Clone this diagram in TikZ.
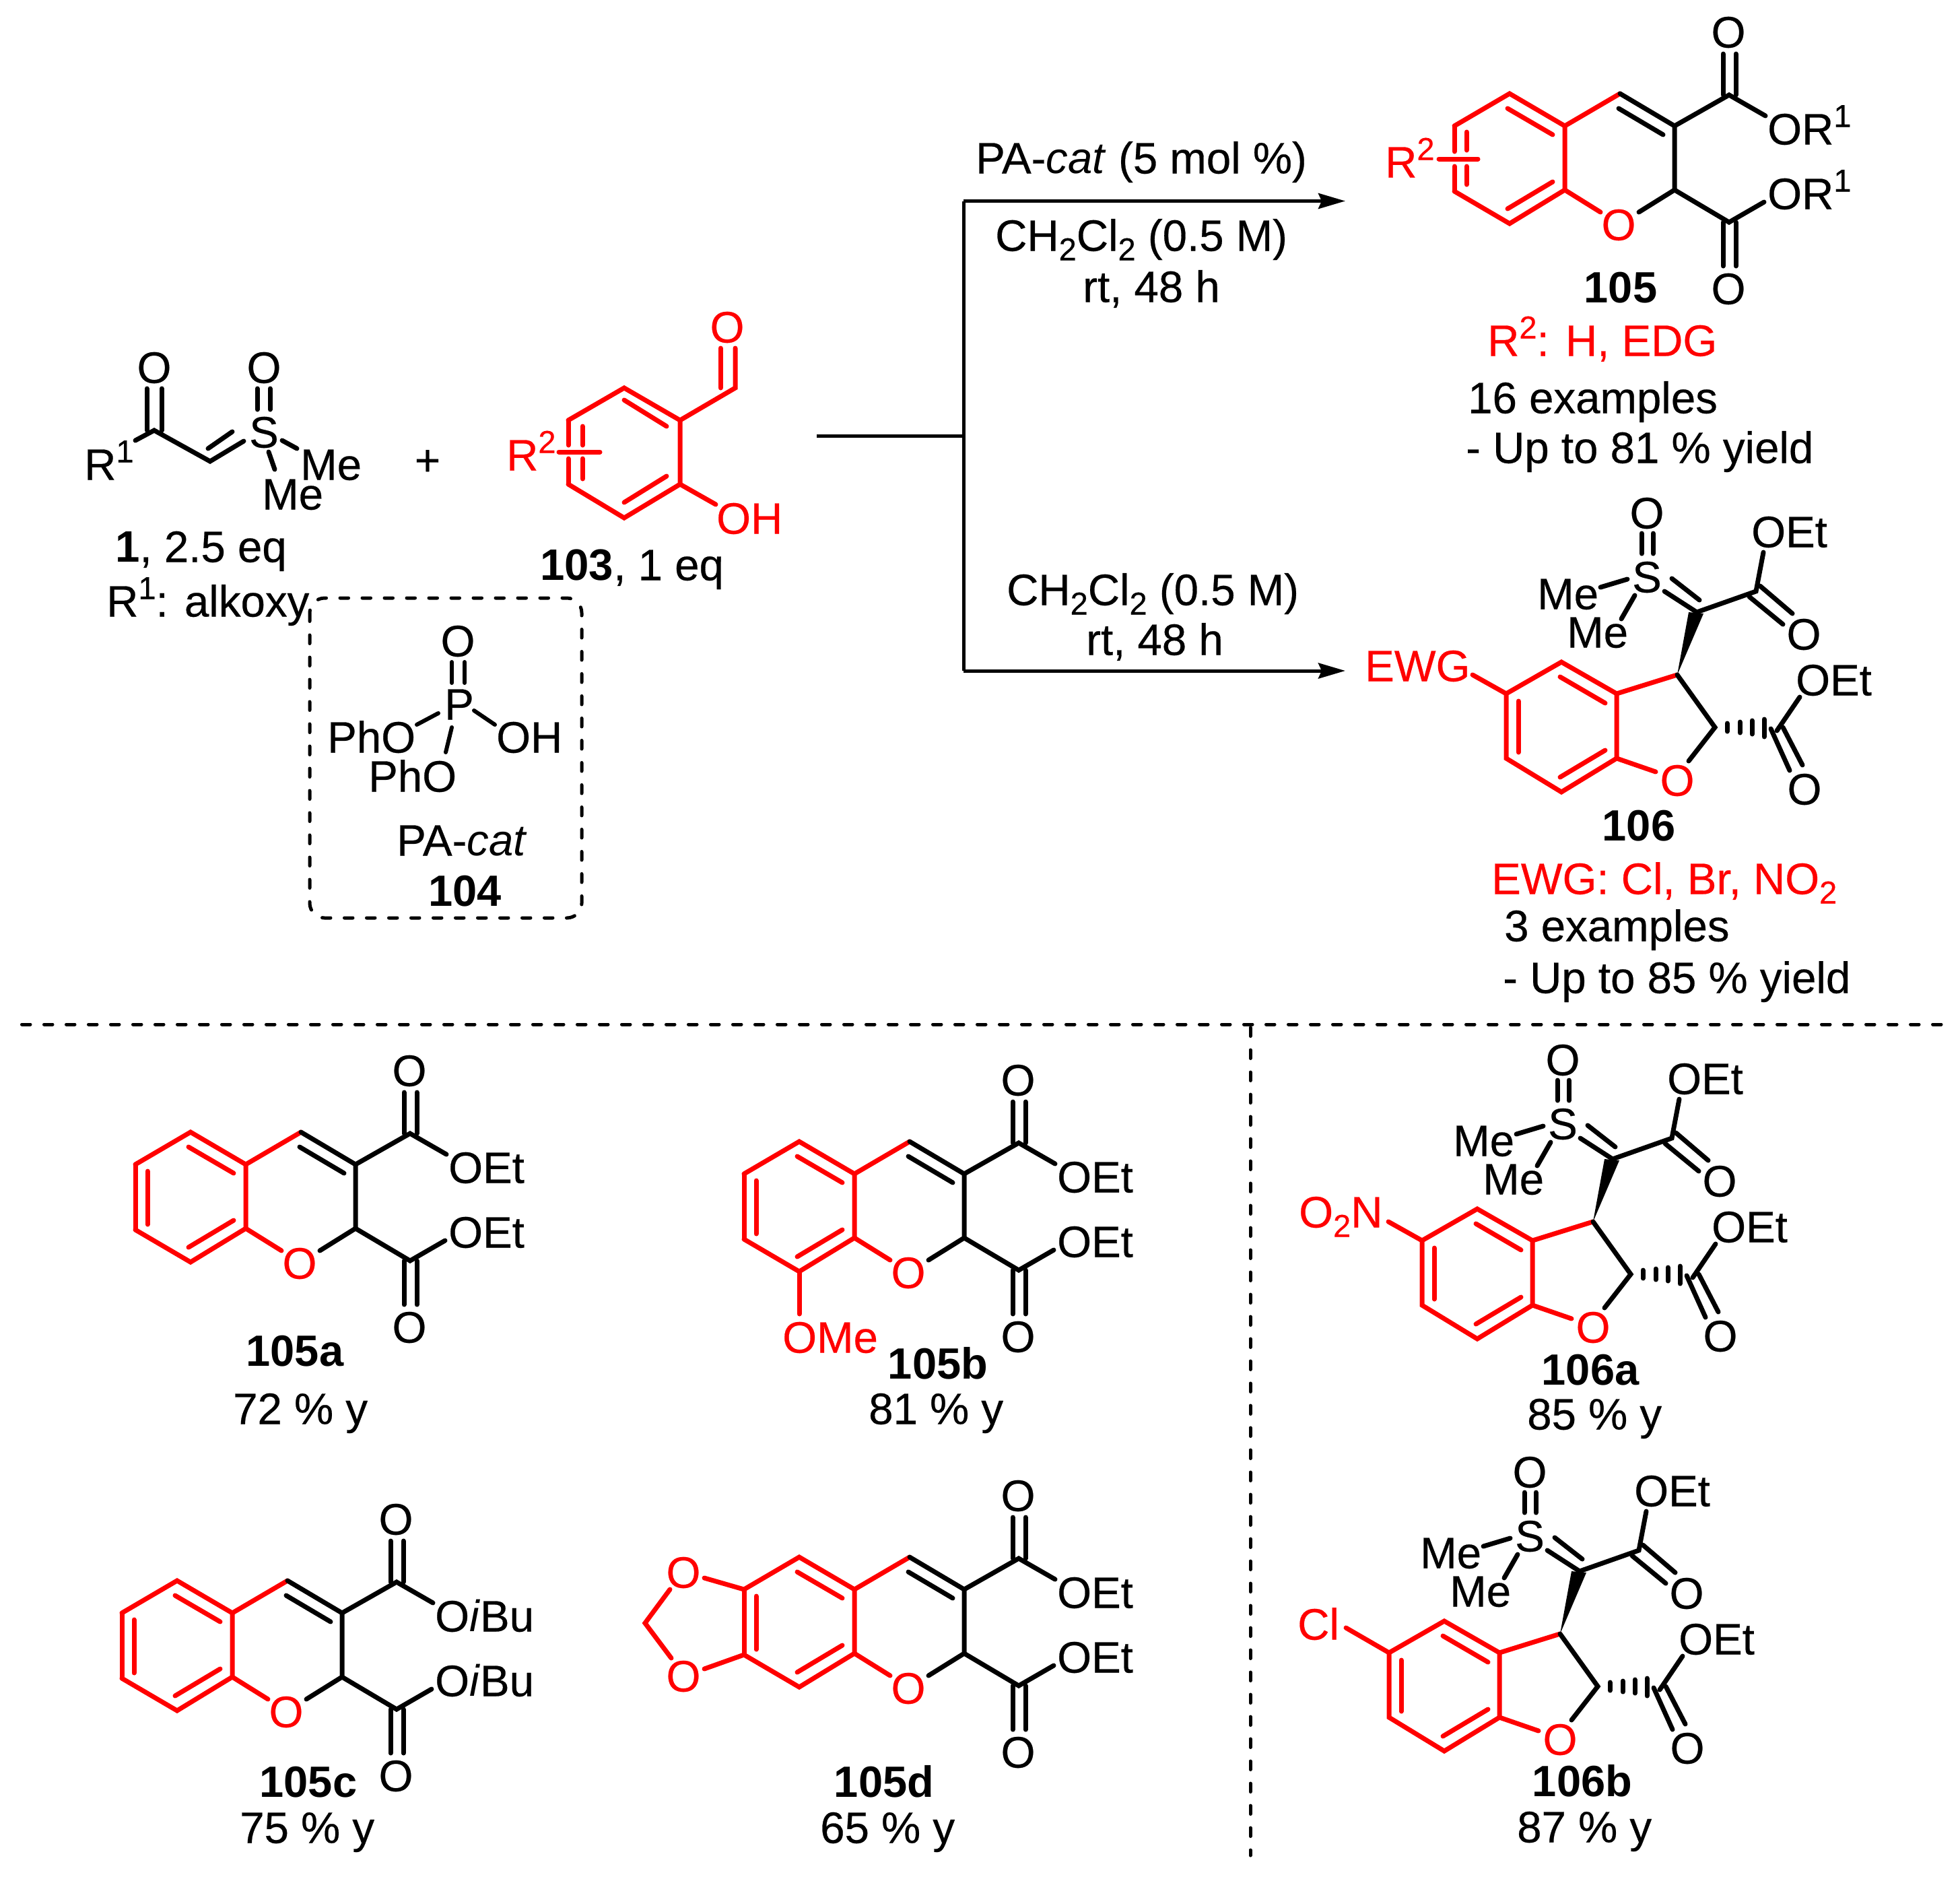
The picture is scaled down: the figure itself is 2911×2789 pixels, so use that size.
\documentclass[tikz,border=0pt]{standalone}
\usepackage{fontspec}
\setmainfont{Liberation Sans}[UprightFeatures={FakeBold=0.4}]
\usetikzlibrary{arrows.meta}
\definecolor{chemred}{RGB}{255,0,0}
\newcommand\upn[1]{\raisebox{26pt}{\fontsize{47}{50}\selectfont #1}}
\newcommand\dnn[1]{\raisebox{-14pt}{\fontsize{47}{50}\selectfont #1}}
\tikzset{
  bk/.style={line width=7pt,line cap=round,line join=miter,draw=black},
  rd/.style={line width=7pt,line cap=round,line join=miter,draw=chemred},
  txt/.style={anchor=base west,inner sep=0pt,xshift=-3pt,yshift=-1.5pt,font=\fontsize{65.4}{70}\selectfont},
  ctr/.style={anchor=center,inner sep=0pt,font=\fontsize{65.4}{70}\selectfont},
  cbase/.style={anchor=base,inner sep=0pt,yshift=-1.5pt,font=\fontsize{65.4}{70}\selectfont},
  lbl/.style={anchor=base,inner sep=0pt,yshift=-1pt,font=\fontsize{65}{70}\selectfont\bfseries},
  redtxt/.style={text=chemred},
  rxn/.style={line width=5pt,draw=black},
  sep/.style={line width=5pt,line cap=round,draw=black,dash pattern=on 12.5pt off 20.5pt},
}
% chromene diester, drawn in the coordinates of 105, without the outer left ring side
\newcommand\chromcore[4]{%
\begin{scope}[shift={(#2,#3)},name prefix=#1-]
  \coordinate (r1) at (2242,139); \coordinate (r2) at (2324,187);
  \coordinate (r3) at (2324,282); \coordinate (r4) at (2242,332);
  \coordinate (r5) at (2160,284); \coordinate (r6) at (2160,187);
  \coordinate (c4) at (2406,139); \coordinate (c3) at (2487,187);
  \coordinate (c2) at (2487,282); \coordinate (et) at (2568,141);
  \coordinate (eb) at (2568,330);
  \draw[rd] (r6) -- (r1) -- (r2) -- (c4);
  \draw[rd] (r2) -- (r3) -- (r4) -- (r5);
  \draw[rd] (r3) -- (2377,315);
  \draw[rd] (2239,161) -- (2306,200);
  \draw[rd] (2239,310) -- (2306,270);
  \draw[bk] (c4) -- (c3) -- (c2) -- (2434,315);
  \draw[bk] (2404,161) -- (2470,200);
  \draw[bk] (c3) -- (et) -- (2622,172);
  \draw[bk] (c2) -- (eb) -- (2620,300);
  \draw[bk] (2559,141) -- (2559,80);
  \draw[bk] (2578,141) -- (2578,80);
  \draw[bk] (2559,330) -- (2559,395);
  \draw[bk] (2578,330) -- (2578,395);
  \node[ctr,redtxt] (ox) at (2404,334) {O};
  \node[ctr] (ot) at (2567,48) {O};
  \node[ctr] (ob) at (2567,429) {O};
  \node[txt] (rt) at (2628,213) {#4};
  \node[txt] (rb) at (2628,309) {#4};
\end{scope}}
\newcommand\chromleft[3]{%
\begin{scope}[shift={(#2,#3)},name prefix=#1-]
  \draw[rd] (r6) -- (r5);
  \draw[rd] (2178,197) -- (2178,276);
\end{scope}}
% dihydrobenzofuran, drawn in the coordinates of 106
\newcommand\dhb[4]{%
\begin{scope}[shift={(#2,#3)},name prefix=#1-]
  \coordinate (a1) at (2319,983); \coordinate (a2) at (2401,1030);
  \coordinate (a3) at (2401,1126); \coordinate (a4) at (2319,1176);
  \coordinate (a5) at (2237,1126); \coordinate (a6) at (2237,1030);
  \coordinate (c3) at (2491,1002); \coordinate (c2) at (2547,1080);
  \coordinate (cs) at (2520,909); \coordinate (e1) at (2608,878);
  \coordinate (e2) at (2639,1085);
  \draw[rd] (a6) -- (a1) -- (a2) -- (a3) -- (a4) -- (a5) -- cycle;
  \draw[rd] (2317,1005) -- (2384,1044);
  \draw[rd] (2317,1154) -- (2384,1114);
  \draw[rd] (2255,1041) -- (2255,1117);
  \draw[rd] (a2) -- (c3);
  \draw[rd] (a3) -- (2459,1146);
  \draw[rd] (a6) -- (#4);
  \draw[bk] (c3) -- (c2) -- (2508,1130);
  \fill[black] (c3) -- (2508,909) -- (2530,911) -- cycle;
  \draw[bk] (cs) -- (2472,878);
  \draw[bk] (2524,891) -- (2483,859);
  \draw[bk] (cs) -- (e1) -- (2619,820);
  \draw[bk] (2417,860) -- (2377,872);
  \draw[bk] (2428,884) -- (2408,919);
  \draw[bk] (2438,792) -- (2438,822);
  \draw[bk] (2455,792) -- (2455,822);
  \draw[bk] (2614,870) -- (2662,911);
  \draw[bk] (2598,886) -- (2648,927);
  \draw[bk] (2565,1074) -- (2565,1086);
  \draw[bk] (2584,1072) -- (2584,1088);
  \draw[bk] (2602,1070) -- (2602,1090);
  \draw[bk] (2620,1068) -- (2620,1094);
  \draw[bk] (e2) -- (2673,1035);
  \draw[bk] (2630,1082) -- (2658,1144);
  \draw[bk] (2648,1080) -- (2677,1136);
  \node[ctr,redtxt] (ox) at (2491,1159) {O};
  \node[ctr] (sul) at (2446,857) {S};
  \node[ctr] (os) at (2446,762) {O};
  \node[txt] (me1) at (2286,903) {Me};
  \node[txt] (me2) at (2330,960) {Me};
  \node[txt] (oet1) at (2604,811) {OEt};
  \node[ctr] (oe1) at (2679,942) {O};
  \node[txt] (oet2) at (2670,1031) {OEt};
  \node[ctr] (oe2) at (2680,1172) {O};
\end{scope}}
\begin{document}
\begin{tikzpicture}[x=1pt,y=-1pt]
\useasboundingbox (0,0) rectangle (2911,2789);
\fill[white] (0,0) rectangle (2911,2789);

% ---- reagent 1
\coordinate (k1) at (229,639); \coordinate (k2) at (312,685);
\draw[bk] (201,654) -- (k1) -- (k2) -- (362,655);
\draw[bk] (309,666) -- (345,641);
\draw[bk] (218,639) -- (218,577);
\draw[bk] (240,639) -- (240,577);
\draw[bk] (382,577) -- (382,608);
\draw[bk] (401,577) -- (401,608);
\draw[bk] (419,654) -- (441,666);
\draw[bk] (399,671) -- (408,697);
\node[txt] (r1a) at (128,711) {R\upn{1}};
\node[ctr] (o1a) at (229,546) {O};
\node[ctr] (s1a) at (392,642) {S};
\node[ctr] (o1b) at (392,546) {O};
\node[txt] (me1a) at (449,711) {Me};
\node[txt] (me1b) at (392,755) {Me};
\node[txt] (lab1) at (174,833) {\textbf{1}, 2.5 eq};
\node[txt] (lab1r) at (161,914) {R\upn{1}: alkoxy};
\node[ctr] (plus) at (635,687) {+};

% ---- reagent 103
\coordinate (p1) at (927,576); \coordinate (p2) at (1010,624);
\coordinate (p3) at (1010,719); \coordinate (p4) at (927,769);
\coordinate (p5) at (844,719); \coordinate (p6) at (844,624);
\coordinate (cho) at (1092,576);
\draw[rd] (p6) -- (p1) -- (p2) -- (p3) -- (p4) -- (p5);
\draw[rd] (p5) -- (844,681);
\draw[rd] (p6) -- (844,661);
\draw[rd] (865,633) -- (865,661);
\draw[rd] (865,681) -- (865,711);
\draw[rd] (830,671) -- (891,671);
\draw[rd] (927,594) -- (990,633);
\draw[rd] (927,746) -- (990,707);
\draw[rd] (p2) -- (cho) -- (1092,517);
\draw[rd] (1070,576) -- (1070,517);
\draw[rd] (p3) -- (1063,749);
\node[ctr,redtxt] (o103) at (1080,486) {O};
\node[txt,redtxt] (oh103) at (1067,791) {OH};
\node[txt,redtxt] (r103) at (755,697) {R\upn{2}};
\node[txt] (lab103) at (805,860) {\textbf{103}, 1 eq};

% ---- catalyst box
\draw[sep,rounded corners=22pt] (460,888) rectangle (864,1363);
\draw[bk,line width=6pt] (671,983) -- (671,1014);
\draw[bk,line width=6pt] (690,983) -- (690,1014);
\draw[bk,line width=6pt] (651,1059) -- (619,1076);
\draw[bk,line width=6pt] (704,1055) -- (735,1076);
\draw[bk,line width=6pt] (671,1080) -- (662,1117);
\node[ctr] (o104) at (680,952) {O};
\node[ctr] (p104) at (682,1046) {P};
\node[txt] (pho1) at (489,1116) {PhO};
\node[txt] (oh104) at (740,1116) {OH};
\node[txt] (pho2) at (550,1174) {PhO};
\node[txt] (pacat) at (592,1269) {PA-\textit{cat}};
\node[lbl,anchor=base west] (lab104) at (636,1344) {104};

% ---- reaction arrows
\coordinate (st) at (1213,647); \coordinate (jn) at (1431,647);
\coordinate (jt) at (1431,298.5); \coordinate (jb) at (1431,996);
\coordinate (tipt) at (1998,298.5); \coordinate (tipb) at (1998,996);
\draw[rxn] (st) -- (jn);
\draw[rxn] (jt) -- (jb);
\draw[rxn,-{Stealth[length=40pt,width=23pt,inset=5pt]}] (jt) -- (tipt);
\draw[rxn,-{Stealth[length=40pt,width=23pt,inset=5pt]}] (jb) -- (tipb);
\node[txt] (t1) at (1452,256) {PA-\textit{cat} (5 mol \%)};
\node[txt] (t2) at (1481,371) {CH\dnn{2}Cl\dnn{2} (0.5 M)};
\node[cbase] (t3) at (1710,447) {rt, 48 h};
\node[txt] (t4) at (1498,897) {CH\dnn{2}Cl\dnn{2} (0.5 M)};
\node[cbase] (t5) at (1715,971) {rt, 48 h};

% ---- product 105
\chromcore{p105}{0}{0}{OR\upn{1}}
\draw[rd] (2160,187) -- (2160,225);
\draw[rd] (2160,247) -- (2160,284);
\draw[rd] (2178,196) -- (2178,223);
\draw[rd] (2178,247) -- (2178,274);
\draw[rd] (2137,236) -- (2195,236);
\node[txt,redtxt] (r105) at (2060,262) {R\upn{2}};
\node[lbl] (lab105) at (2407,448) {105};
\node[txt,redtxt] (r2line) at (2212,527) {R\upn{2}: H, EDG};
\node[txt] (ex16) at (2183,612) {16 examples};
\node[txt] (up81) at (2180,686) {- Up to 81 \% yield};

% ---- product 106
\dhb{p106}{0}{0}{2187,1002}
\node[txt,redtxt] (ewg) at (2030,1010) {EWG};
\node[lbl] (lab106) at (2434,1247) {106};
\node[txt,redtxt] (ewgline) at (2218,1326) {EWG: Cl, Br, NO\dnn{2}};
\node[txt] (ex3) at (2237,1396) {3 examples};
\node[txt] (up85) at (2235,1473) {- Up to 85 \% yield};

% ---- separators
\coordinate (h1) at (32.5,1521); \coordinate (h2) at (2883,1521);
\coordinate (v1) at (1857,1526); \coordinate (v2) at (1857,2755);
\draw[sep] (h1) -- (h2);
\draw[sep] (v1) -- (v2);

% ---- 105a
\chromcore{a}{-1959}{1542}{OEt}
\chromleft{a}{-1959}{1542}
\node[lbl] (laba) at (438,2027) {105a};
\node[txt] (ya) at (349,2113) {72 \% y};

% ---- 105b
\chromcore{b}{-1055}{1556}{OEt}
\chromleft{b}{-1055}{1556}
\coordinate (bome) at (1187,1951);
\draw[rd] (b-r4) -- (bome);
\node[txt,redtxt] (ome) at (1165,2007) {OMe};
\node[lbl] (labb) at (1393,2046) {105b};
\node[txt] (yb) at (1293,2113) {81 \% y};

% ---- 105c
\chromcore{c}{-1979}{2208}{O\textit{i}Bu}
\chromleft{c}{-1979}{2208}
\node[lbl] (labc) at (458,2667) {105c};
\node[txt] (yc) at (359,2735) {75 \% y};

% ---- 105d
\chromcore{d}{-1055}{2173}{OEt}
\chromleft{d}{-1055}{2173}
\coordinate (dch) at (958,2410);
\draw[rd] (d-r6) -- (1046,2343);
\draw[rd] (d-r5) -- (1046,2478);
\draw[rd] (995,2360) -- (dch) -- (997,2462);
\node[ctr,redtxt] (do1) at (1015,2335) {O};
\node[ctr,redtxt] (do2) at (1015,2489) {O};
\node[lbl] (labd) at (1313,2667) {105d};
\node[txt] (yd) at (1221,2735) {65 \% y};

% ---- 106a
\dhb{e}{-125}{812}{2187,1002}
\node[txt,redtxt] (no2) at (1932,1821) {O\dnn{2}N};
\node[lbl] (labe) at (2362,2055) {106a};
\node[txt] (ye) at (2271,2121) {85 \% y};

% ---- 106b
\dhb{f}{-174}{1424}{2173,993}
\node[txt,redtxt] (cl) at (1930,2433) {Cl};
\node[lbl] (labf) at (2350,2666) {106b};
\node[txt] (yf) at (2256,2734) {87 \% y};
\end{tikzpicture}
\end{document}
